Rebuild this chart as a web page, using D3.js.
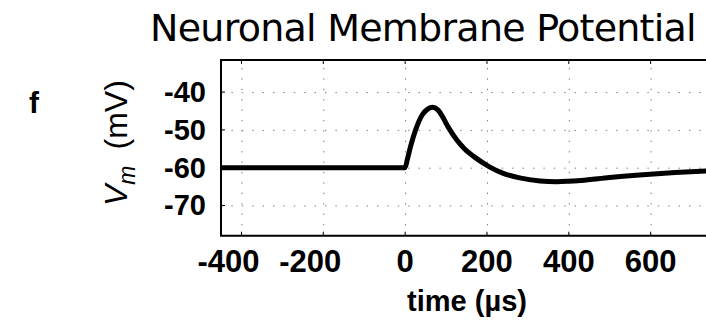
<!DOCTYPE html>
<html lang="en">
<head>
    <meta charset="UTF-8">
    <title>Neuronal Membrane Potential</title>
    <script src="https://d3js.org/d3.v7.min.js"></script>
    <style>
        body { margin: 0; background: #fff; }
        .grid line { stroke: #7a7a7a; stroke-width: 1; stroke-dasharray: 1.4,9; }
        .grid path { display: none; }
        .tick-label { font-family: "Liberation Sans", Arial, sans-serif; font-weight: bold; fill: #000; }
    </style>
</head>
<body>
    <svg width="706" height="322"></svg>
    <script>
        // membrane potential trace
        const timeUs = [-450, 0, 5, 13, 25, 42, 55, 67, 80, 90, 105, 125, 145, 175, 205, 240, 280, 330, 370, 430, 500, 590, 660, 750];
        const vmMv   = [-60, -60, -58, -54.5, -50.2, -46, -44.5, -44, -44.7, -46.2, -49.2, -52.5, -55, -57.6, -59.7, -61.5, -62.7, -63.5, -63.7, -63.4, -62.6, -61.8, -61.3, -60.8];

        const xTicks = [-400, -200, 0, 200, 400, 600];
        const yTicks = [-40, -50, -60, -70];

        const svg = d3.select("svg");

        const plotLeft = 221, plotTop = 60, plotBottom = 235.7, plotRight = 712;

        const x = d3.scaleLinear().domain([-450, 750]).range([plotLeft, plotRight]);
        const y = d3.scaleLinear().domain([-78, -31.5]).range([plotBottom, plotTop]);

        // gridlines
        svg.append("g")
            .attr("class", "grid")
            .attr("transform", `translate(0, ${plotBottom})`)
            .call(d3.axisBottom(x).tickValues(xTicks).tickSize(-(plotBottom - plotTop)).tickFormat(""));

        svg.append("g")
            .attr("class", "grid")
            .attr("transform", `translate(${plotLeft}, 0)`)
            .call(d3.axisLeft(y).tickValues(yTicks).tickSize(-(plotRight - plotLeft)).tickFormat(""));

        // inward tick marks (bottom, top, left)
        const ticks = svg.append("g").attr("stroke", "#000").attr("stroke-width", 1);
        xTicks.forEach(t => {
            ticks.append("line").attr("x1", x(t)).attr("x2", x(t)).attr("y1", plotBottom).attr("y2", plotBottom - 4);
            ticks.append("line").attr("x1", x(t)).attr("x2", x(t)).attr("y1", plotTop).attr("y2", plotTop + 4);
        });
        yTicks.forEach(v => {
            ticks.append("line").attr("x1", plotLeft).attr("x2", plotLeft + 4).attr("y1", y(v)).attr("y2", y(v));
        });

        // the trace
        svg.append("clipPath").attr("id", "plot")
            .append("rect").attr("x", plotLeft).attr("y", plotTop)
            .attr("width", plotRight - plotLeft).attr("height", plotBottom - plotTop);

        const pts = timeUs.map((t, i) => [t, vmMv[i]]);
        svg.append("path")
            .datum(pts)
            .attr("clip-path", "url(#plot)")
            .attr("fill", "none")
            .attr("stroke", "#000")
            .attr("stroke-width", 5)
            .attr("stroke-linejoin", "round")
            .attr("d", d3.line().x(d => x(d[0])).y(d => y(d[1])).curve(d3.curveMonotoneX));

        // axis box
        svg.append("path")
            .attr("fill", "none")
            .attr("stroke", "#000")
            .attr("stroke-width", 2)
            .attr("d", `M${plotRight},${plotTop}H${plotLeft}V${plotBottom}H${plotRight}`);

        // tick labels (negative ones sit a little left of their tick, as in the original)
        svg.append("g").selectAll("text")
            .data(xTicks)
            .join("text")
            .attr("class", "tick-label")
            .attr("x", d => x(d) + (d < 0 ? -13 : 0))
            .attr("y", 272)
            .attr("text-anchor", "middle")
            .attr("font-size", 31)
            .text(d => d);

        svg.append("g").selectAll("text")
            .data(yTicks)
            .join("text")
            .attr("class", "tick-label")
            .attr("x", 206)
            .attr("y", d => y(d) + 10)
            .attr("text-anchor", "end")
            .attr("font-size", 29)
            .text(d => d);

        // title
        svg.append("text")
            .attr("x", 150)
            .attr("y", 41)
            .attr("font-family", "'DejaVu Sans', sans-serif")
            .attr("font-size", 38)
            .attr("letter-spacing", -0.75)
            .text("Neuronal Membrane Potential");

        // panel letter
        svg.append("text")
            .attr("class", "tick-label")
            .attr("x", 29)
            .attr("y", 113)
            .attr("font-size", 30)
            .text("f");

        // x label
        svg.append("text")
            .attr("class", "tick-label")
            .attr("x", 467)
            .attr("y", 311)
            .attr("text-anchor", "middle")
            .attr("font-size", 29)
            .text("time (\u00b5s)");

        // y label
        const yl = svg.append("text")
            .attr("transform", "translate(127, 206) rotate(-90)")
            .attr("font-family", "'Liberation Sans', Arial, sans-serif")
            .attr("font-size", 32);
        yl.append("tspan").attr("font-style", "italic").text("V");
        yl.append("tspan").attr("font-style", "italic").attr("font-size", 23).attr("dy", 8).text("m");
        yl.append("tspan").attr("dy", -8).text("\u2002(mV)");
    </script>
</body>
</html>
